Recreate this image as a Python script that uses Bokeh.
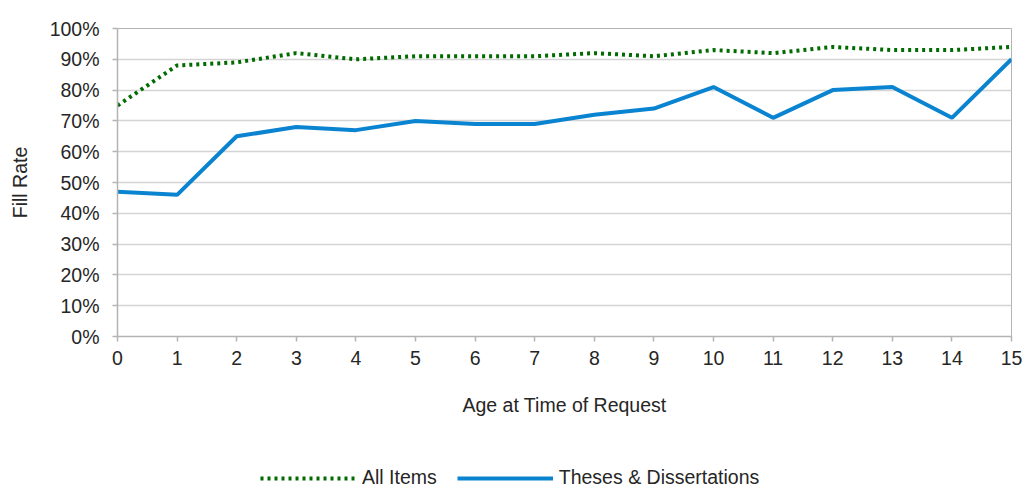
from bokeh.plotting import figure
from bokeh.layouts import column
from bokeh.models import Legend, LegendItem, FixedTicker, PrintfTickFormatter, Range1d, ColumnDataSource
from bokeh.embed import file_html
from bokeh.resources import INLINE

ages = list(range(16))
all_items = [75, 88, 89, 92, 90, 91, 91, 91, 92, 91, 93, 92, 94, 93, 93, 94]
theses = [47, 46, 65, 68, 67, 70, 69, 69, 72, 74, 81, 71, 80, 81, 71, 90]
y_ticks = list(range(0, 101, 10))
series_names = ["All Items", "Theses & Dissertations"]

FONT = "Liberation Sans"
FS = "19.5px"
TXT = "#262626"
GREEN = "#006b00"
BLUE = "#0a84d0"

src = ColumnDataSource(dict(age=ages, all_items=all_items, theses=theses))

p = figure(width=1023, height=440, frame_width=894, frame_height=308,
           x_range=Range1d(0, 15), y_range=Range1d(0, 100),
           output_backend="svg", toolbar_location=None,
           min_border_left=117, min_border_right=12, min_border_top=28, min_border_bottom=104)
p.background_fill_color = "white"
p.border_fill_color = "white"
p.outline_line_color = "#b3b3b3"

p.line("age", "all_items", source=src, line_color=GREEN, line_width=4,
       line_dash="3 4", line_cap="butt")
p.line("age", "theses", source=src, line_color=BLUE, line_width=4)

p.xgrid.grid_line_color = None
p.ygrid.grid_line_color = "#d4d4d4"
p.ygrid.grid_line_width = 1.5

p.xaxis.ticker = FixedTicker(ticks=ages)
p.yaxis.ticker = FixedTicker(ticks=y_ticks)
p.yaxis.formatter = PrintfTickFormatter(format="%d%%")

for ax in (p.xaxis[0], p.yaxis[0]):
    ax.axis_line_color = "#b3b3b3"
    ax.axis_line_width = 1.5
    ax.major_tick_line_color = "#b3b3b3"
    ax.major_tick_line_width = 1.5
    ax.major_tick_out = 5
    ax.major_tick_in = 0
    ax.minor_tick_line_color = None
    ax.major_label_text_font = FONT
    ax.major_label_text_font_size = FS
    ax.major_label_text_color = TXT
    ax.axis_label_text_font = FONT
    ax.axis_label_text_font_size = FS
    ax.axis_label_text_font_style = "normal"
    ax.axis_label_text_color = TXT

p.xaxis.axis_label = "Age at Time of Request"
p.xaxis.major_label_standoff = 9
p.xaxis.axis_label_standoff = 26
p.yaxis.axis_label = "Fill Rate"
p.yaxis.major_label_standoff = 13
p.yaxis.axis_label_standoff = 16

# Legend strip below the chart (a legend placed outside a frame gets clipped).
# Its renderers carry the real series but lie outside this strip's ranges.
lg = figure(width=1023, height=49, x_range=Range1d(-2, -1), y_range=Range1d(-2, -1),
            output_backend="svg", toolbar_location=None,
            x_axis_location=None, y_axis_location=None,
            min_border_left=0, min_border_right=0, min_border_top=0, min_border_bottom=0)
lg.outline_line_color = None
lg.grid.grid_line_color = None
lg.background_fill_color = "white"
lg.border_fill_color = "white"
g1 = lg.line("age", "all_items", source=src, line_color=GREEN, line_width=4,
             line_dash="3 4", line_cap="butt")
g2 = lg.line("age", "theses", source=src, line_color=BLUE, line_width=4)

legend = Legend(items=[LegendItem(label=series_names[0], renderers=[g1]),
                       LegendItem(label=series_names[1], renderers=[g2])],
                orientation="horizontal", location=(143, 0),
                glyph_width=96, glyph_height=20, label_standoff=6, spacing=20,
                padding=0, margin=0, border_line_color=None, background_fill_alpha=0,
                label_text_font=FONT, label_text_font_size=FS, label_text_color=TXT)
lg.add_layout(legend, "center")

layout = column(p, lg, spacing=0)
open("out.html", "w").write(file_html(layout, INLINE))
